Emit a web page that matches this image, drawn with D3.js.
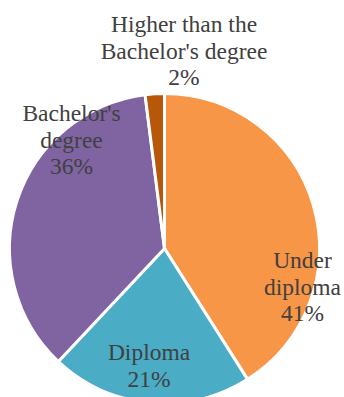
<!DOCTYPE html>
<html>
<head>
<meta charset="utf-8">
<script src="https://cdn.jsdelivr.net/npm/d3@7"></script>
<style>
  html, body { margin: 0; padding: 0; background: #ffffff; }
  svg { display: block; }
</style>
</head>
<body>
<svg id="chart" width="344" height="397"></svg>
<script>
// Education level shares, clockwise from 12 o'clock
const categories = ["Under diploma", "Diploma", "Bachelor's degree", "Higher than the Bachelor's degree"];
const shares = [41, 21, 36, 2];
const labelLines = [
  ["Under", "diploma"],
  ["Diploma"],
  ["Bachelor's", "degree"],
  ["Higher than the", "Bachelor's degree"]
];
const sliceColors = ["#F79646", "#4BACC6", "#8064A2", "#B6570A"];

// Label block anchors (centre x, middle-line baseline y) relative to the pie centre
const labelAnchors = [
  [138, 46],
  [-15.5, 125],
  [-93, -101],
  [19.5, -190]
];

const width = 344, height = 397;
const cx = 164.5, cy = 248.5, radius = 155;
const fontSize = 23.5, lineHeight = 26.5;

const svg = d3.select("#chart");
const g = svg.append("g").attr("transform", `translate(${cx},${cy})`);

const color = d3.scaleOrdinal().domain(categories).range(sliceColors);

const pie = d3.pie().sort(null).value(d => d.value);
const arc = d3.arc().innerRadius(0).outerRadius(radius);

const data = categories.map((c, i) => ({
  name: c, value: shares[i], lines: labelLines[i], anchor: labelAnchors[i]
}));
const arcs = pie(data);

g.selectAll("path.slice")
  .data(arcs)
  .join("path")
  .attr("class", "slice")
  .attr("d", arc)
  .attr("fill", d => color(d.data.name))
  .attr("stroke", "#ffffff")
  .attr("stroke-width", 3)
  .attr("stroke-linejoin", "miter");

const total = d3.sum(shares);
const fmt = v => Math.round(v / total * 100) + "%";

// One text element per label line
const lineItems = arcs.flatMap(d => {
  const lines = d.data.lines.concat([fmt(d.data.value)]);
  const n = lines.length;
  const [ax, ay] = d.data.anchor;
  const y0 = ay - (n - 1) / 2 * lineHeight;
  return lines.map((t, i) => ({ text: t, x: ax, y: y0 + i * lineHeight }));
});

g.selectAll("text.label")
  .data(lineItems)
  .join("text")
  .attr("class", "label")
  .attr("x", d => d.x)
  .attr("y", d => d.y)
  .attr("text-anchor", "middle")
  .style("font-family", '"Liberation Serif"')
  .style("font-size", fontSize + "px")
  .style("fill", "#404040")
  .text(d => d.text);
</script>
</body>
</html>
